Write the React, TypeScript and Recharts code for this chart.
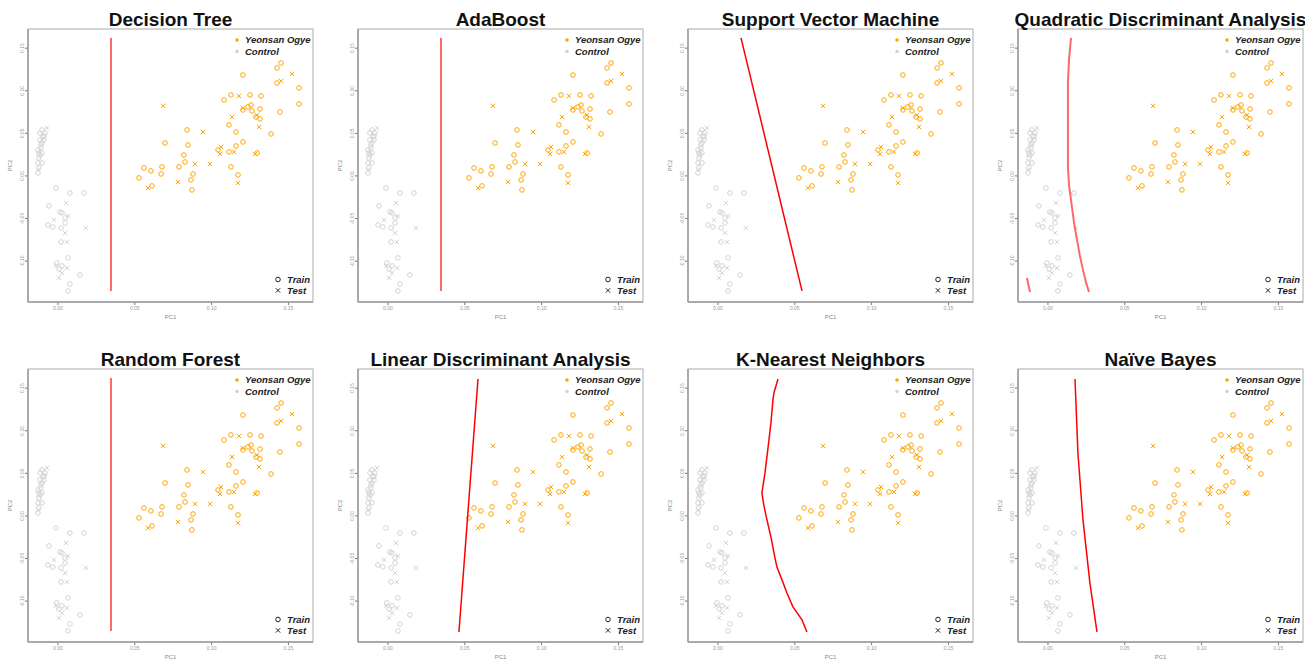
import React from 'react';
import { ScatterChart, Scatter, XAxis, YAxis } from 'recharts';

const ORANGE = '#FFA500';
const GREY = '#D3D3D3';
const FONT = '"Liberation Sans", Arial, Helvetica, sans-serif';

const X_TICKS = [0, 0.05, 0.1, 0.15];
const Y_TICKS = [-0.1, -0.05, 0, 0.05, 0.1, 0.15];
const X_DOMAIN = [-0.0195, 0.166];
const Y_DOMAIN = [-0.148, 0.1725];

const TITLES = [
  'Decision Tree',
  'AdaBoost',
  'Support Vector Machine',
  'Quadratic Discriminant Analysis',
  'Random Forest',
  'Linear Discriminant Analysis',
  'K-Nearest Neighbors',
  'Naïve Bayes',
];

const yeonsanTrain = [
  { x: 0.0527, y: -0.0023 }, { x: 0.056, y: 0.0094 }, { x: 0.0605, y: 0.0059 },
  { x: 0.0612, y: -0.0117 }, { x: 0.0671, y: 0.0023 }, { x: 0.0677, y: 0.0106 },
  { x: 0.0697, y: 0.0387 }, { x: 0.0788, y: 0.0106 }, { x: 0.082, y: 0.0246 },
  { x: 0.0827, y: 0.0164 }, { x: 0.084, y: 0.054 }, { x: 0.0846, y: 0.0364 },
  { x: 0.0866, y: -0.0047 }, { x: 0.0872, y: -0.0164 }, { x: 0.0879, y: 0.0023 },
  { x: 0.1042, y: 0.0305 }, { x: 0.1081, y: 0.0892 }, { x: 0.1113, y: 0.0599 },
  { x: 0.1113, y: 0.0282 }, { x: 0.1126, y: 0.0951 }, { x: 0.1126, y: 0.0106 },
  { x: 0.1159, y: 0.0516 }, { x: 0.1159, y: 0.0352 }, { x: 0.1172, y: 0.0012 },
  { x: 0.1204, y: 0.1185 }, { x: 0.1204, y: 0.0399 }, { x: 0.1204, y: 0.0775 },
  { x: 0.1237, y: 0.081 }, { x: 0.125, y: 0.0951 }, { x: 0.1257, y: 0.0833 },
  { x: 0.1263, y: 0.0763 }, { x: 0.1296, y: 0.027 }, { x: 0.1289, y: 0.0692 },
  { x: 0.1315, y: 0.0669 }, { x: 0.1322, y: 0.0939 }, { x: 0.1315, y: 0.0786 },
  { x: 0.1387, y: 0.0493 }, { x: 0.1426, y: 0.1268 }, { x: 0.1452, y: 0.1326 },
  { x: 0.1426, y: 0.1092 }, { x: 0.1445, y: 0.0751 }, { x: 0.1569, y: 0.1033 },
  { x: 0.1569, y: 0.0845 },
];

const yeonsanTest = [
  { x: 0.0586, y: -0.0141 }, { x: 0.0684, y: 0.0822 }, { x: 0.0781, y: -0.007 },
  { x: 0.0892, y: 0.0141 }, { x: 0.0944, y: 0.0516 }, { x: 0.099, y: 0.0141 },
  { x: 0.1055, y: 0.0258 }, { x: 0.1061, y: 0.034 }, { x: 0.1133, y: 0.0692 },
  { x: 0.1146, y: 0.0282 }, { x: 0.1172, y: -0.0082 }, { x: 0.1178, y: 0.0939 },
  { x: 0.1204, y: 0.0798 }, { x: 0.1283, y: 0.0258 }, { x: 0.1296, y: 0.0716 },
  { x: 0.1309, y: 0.0575 }, { x: 0.1452, y: 0.1115 }, { x: 0.1523, y: 0.1197 },
];

const controlTrain = [
  { x: -0.0104, y: 0.054 }, { x: -0.0117, y: 0.0505 }, { x: -0.0085, y: 0.0505 },
  { x: -0.0098, y: 0.0458 }, { x: -0.0117, y: 0.0423 }, { x: -0.0091, y: 0.0423 },
  { x: -0.0104, y: 0.0387 }, { x: -0.013, y: 0.0305 }, { x: -0.0111, y: 0.0329 },
  { x: -0.0124, y: 0.027 }, { x: -0.0104, y: 0.027 }, { x: -0.0124, y: 0.0211 },
  { x: -0.013, y: 0.0153 }, { x: -0.0104, y: 0.0153 }, { x: -0.0124, y: 0.0094 },
  { x: -0.013, y: 0.0035 }, { x: -0.0091, y: 0.0469 }, { x: -0.0111, y: 0.0364 },
  { x: -0.0117, y: 0.0246 },
  { x: -0.0013, y: -0.0141 }, { x: 0.0078, y: -0.02 }, { x: 0.0169, y: -0.02 },
  { x: -0.0059, y: -0.0352 }, { x: 0.0013, y: -0.0423 }, { x: 0.0026, y: -0.0434 },
  { x: 0.0046, y: -0.0493 }, { x: 0.0046, y: -0.0552 }, { x: -0.0065, y: -0.0575 },
  { x: -0.0033, y: -0.0599 }, { x: 0.002, y: -0.061 }, { x: 0.002, y: -0.0775 },
  { x: 0.0065, y: -0.0962 }, { x: -0.0007, y: -0.1021 }, { x: 0.0026, y: -0.1056 },
  { x: 0.0007, y: -0.1092 }, { x: 0.0143, y: -0.1162 }, { x: 0.0078, y: -0.1268 },
  { x: 0.0065, y: -0.135 },
];

const controlTest = [
  { x: -0.0072, y: 0.0563 }, { x: -0.013, y: 0.007 },
  { x: 0.0052, y: -0.0317 }, { x: 0.0065, y: -0.0469 }, { x: -0.0026, y: -0.0516 },
  { x: 0.0046, y: -0.0669 }, { x: 0.0182, y: -0.061 }, { x: 0.0059, y: -0.0775 },
  { x: -0.0013, y: -0.1056 }, { x: 0.0059, y: -0.108 }, { x: 0.0026, y: -0.1138 },
  { x: 0.0007, y: -0.1197 },
];

const treeBoundary = [{ x: 0.0345, y: 0.162 }, { x: 0.0345, y: -0.135 }];
const svmBoundary = [{ x: 0.015, y: 0.162 }, { x: 0.0547, y: -0.135 }];
const ldaBoundary = [{ x: 0.0586, y: 0.1608 }, { x: 0.0462, y: -0.1362 }];
const qdaBoundary = [
  { x: 0.015, y: 0.162 }, { x: 0.0137, y: 0.1362 }, { x: 0.013, y: 0.1092 },
  { x: 0.013, y: 0.0657 }, { x: 0.013, y: 0.0106 }, { x: 0.0137, y: -0.0106 },
  { x: 0.015, y: -0.0282 }, { x: 0.0169, y: -0.054 }, { x: 0.0189, y: -0.0751 },
  { x: 0.0208, y: -0.0939 }, { x: 0.0228, y: -0.1103 }, { x: 0.0247, y: -0.1244 },
  { x: 0.0267, y: -0.1362 },
];
const qdaBoundary2 = [{ x: -0.0137, y: -0.1197 }, { x: -0.0117, y: -0.1362 }];
const knnBoundary = [
  { x: 0.0391, y: 0.1608 }, { x: 0.0365, y: 0.145 }, { x: 0.0358, y: 0.1362 },
  { x: 0.0345, y: 0.11 }, { x: 0.0332, y: 0.0892 }, { x: 0.0319, y: 0.07 },
  { x: 0.0306, y: 0.0505 }, { x: 0.0286, y: 0.027 }, { x: 0.0299, y: 0.012 },
  { x: 0.0319, y: -0.0047 }, { x: 0.0345, y: -0.025 }, { x: 0.0371, y: -0.0493 },
  { x: 0.0384, y: -0.06 }, { x: 0.0423, y: -0.078 }, { x: 0.0449, y: -0.0904 },
  { x: 0.0488, y: -0.1068 }, { x: 0.0547, y: -0.1221 }, { x: 0.0579, y: -0.1362 },
];
const nbBoundary = [
  { x: 0.0176, y: 0.1608 }, { x: 0.0195, y: 0.0739 }, { x: 0.0228, y: -0.0047 },
  { x: 0.0273, y: -0.0786 }, { x: 0.0319, y: -0.1362 },
];

const BOUNDARIES = [
  [treeBoundary],
  [treeBoundary],
  [svmBoundary],
  [qdaBoundary, qdaBoundary2],
  [treeBoundary],
  [ldaBoundary],
  [knnBoundary],
  [nbBoundary],
];
const SOFT = [true, true, false, true, true, false, false, false];

const PANEL_W = 330;
const PANEL_H = 340;
const FL = 28, FT = 29, FR = 313, FB = 302;

const makeCircle = (color: string) => (props: any) => {
  const { cx, cy } = props;
  if (cx == null || cy == null) return <g />;
  return <circle cx={cx} cy={cy} r={2.3} fill="none" stroke={color} strokeWidth={1} />;
};
const makeCross = (color: string) => (props: any) => {
  const { cx, cy } = props;
  if (cx == null || cy == null) return <g />;
  const d = 2.2;
  return (
    <g stroke={color} strokeWidth={1}>
      <line x1={cx - d} y1={cy - d} x2={cx + d} y2={cy + d} />
      <line x1={cx - d} y1={cy + d} x2={cx + d} y2={cy - d} />
    </g>
  );
};
const noShape = () => <g />;

const XTick = (props: any) => {
  const { x, y, payload } = props;
  return (
    <text x={x} y={y + 4} fontSize={5} fill="#999" textAnchor="middle" fontFamily={FONT}>
      {Number(payload.value).toFixed(2)}
    </text>
  );
};
const YTick = (props: any) => {
  const { x, y, payload } = props;
  return (
    <text x={x} y={y} fontSize={5} fill="#999" textAnchor="middle" fontFamily={FONT}
      transform={`rotate(-90 ${x} ${y})`}>
      {Number(payload.value).toFixed(2)}
    </text>
  );
};

const Panel = ({ idx }: { idx: number }) => {
  const col = idx % 4;
  const row = Math.floor(idx / 4);
  const soft = SOFT[idx];
  const lineStyle = soft
    ? { stroke: '#ff6868', strokeWidth: 2 }
    : { stroke: '#ff0000', strokeWidth: 1.5 };
  return (
    <div style={{ position: 'absolute', left: col * PANEL_W, top: row * PANEL_H, width: PANEL_W, height: PANEL_H }}>
      <ScatterChart width={PANEL_W} height={PANEL_H} margin={{ top: FT, right: PANEL_W - FR, left: 0, bottom: 0 }}>
        <XAxis type="number" dataKey="x" domain={X_DOMAIN} ticks={X_TICKS} allowDataOverflow
          height={PANEL_H - FB} tickSize={3} tickMargin={1} tick={<XTick />}
          axisLine={{ stroke: '#555' }} tickLine={{ stroke: '#777' }} />
        <YAxis type="number" dataKey="y" domain={Y_DOMAIN} ticks={Y_TICKS} allowDataOverflow
          width={FL} tickSize={3} tickMargin={1} tick={<YTick />}
          axisLine={{ stroke: '#555' }} tickLine={{ stroke: '#777' }} />
        <Scatter data={controlTrain} shape={makeCircle(GREY)} isAnimationActive={false} />
        <Scatter data={controlTest} shape={makeCross(GREY)} isAnimationActive={false} />
        <Scatter data={yeonsanTrain} shape={makeCircle(ORANGE)} isAnimationActive={false} />
        <Scatter data={yeonsanTest} shape={makeCross(ORANGE)} isAnimationActive={false} />
        {BOUNDARIES[idx].map((b, i) => (
          <Scatter key={i} data={b} line={lineStyle} lineType="joint" shape={noShape}
            isAnimationActive={false} legendType="none" />
        ))}
      </ScatterChart>
      <svg width={PANEL_W} height={PANEL_H} style={{ position: 'absolute', left: 0, top: 0, pointerEvents: 'none', overflow: 'visible' }}>
        <rect x={FL} y={FT} width={FR - FL} height={FB - FT} fill="none" stroke="#aaa" strokeWidth={1} />
        <text x={(FL + FR) / 2} y={26} fontSize={19} fontWeight="bold" textAnchor="middle" fontFamily={FONT} fill="#111">
          {TITLES[idx]}
        </text>
        <text x={(FL + FR) / 2} y={319} fontSize={6} textAnchor="middle" fontFamily={FONT} fill="#888">PC1</text>
        <text x={12} y={(FT + FB) / 2} fontSize={6} textAnchor="middle" fontFamily={FONT} fill="#888"
          transform={`rotate(-90 12 ${(FT + FB) / 2})`}>PC2</text>
        <circle cx={237} cy={40} r={1.8} fill={ORANGE} />
        <text x={245} y={43.3} fontSize={9.5} fontWeight="bold" fontStyle="italic" fontFamily={FONT} fill="#222">Yeonsan Ogye</text>
        <circle cx={237} cy={51.5} r={1.8} fill={GREY} />
        <text x={245} y={54.8} fontSize={9.5} fontWeight="bold" fontStyle="italic" fontFamily={FONT} fill="#222">Control</text>
        <circle cx={278} cy={279.5} r={2.3} fill="none" stroke="#222" strokeWidth={1} />
        <text x={287} y={282.8} fontSize={9.5} fontWeight="bold" fontStyle="italic" fontFamily={FONT} fill="#222">Train</text>
        <g stroke="#222" strokeWidth={1}>
          <line x1={275.8} y1={288.2} x2={280.2} y2={292.6} />
          <line x1={275.8} y1={292.6} x2={280.2} y2={288.2} />
        </g>
        <text x={287} y={293.8} fontSize={9.5} fontWeight="bold" fontStyle="italic" fontFamily={FONT} fill="#222">Test</text>
      </svg>
    </div>
  );
};

export default function App() {
  return (
    <div style={{ position: 'absolute', left: 0, top: 0, width: 1305, height: 659, background: '#fff', overflow: 'hidden' }}>
      {TITLES.map((_, i) => <Panel key={i} idx={i} />)}
    </div>
  );
}
